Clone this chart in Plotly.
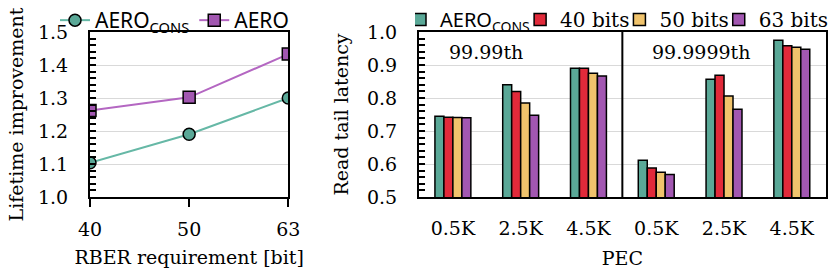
import plotly.graph_objects as go

# ---------------- data ----------------
rber_labels = ["40", "50", "63"]
aero_cons_life = [1.104, 1.19, 1.30]
aero_life = [1.262, 1.302, 1.433]

pec_labels = ["0.5K", "2.5K", "4.5K", "0.5K", "2.5K", "4.5K"]
section_labels = ["99.99th", "99.9999th"]
lat_aero_cons = [0.745, 0.840, 0.890, 0.611, 0.857, 0.975]
lat_40 = [0.742, 0.820, 0.890, 0.588, 0.869, 0.958]
lat_50 = [0.741, 0.785, 0.875, 0.575, 0.806, 0.954]
lat_63 = [0.740, 0.748, 0.867, 0.568, 0.766, 0.948]

# ---------------- style ----------------
TEAL = "#5AA897"
TEAL_LINE = "#66B8A6"
RED = "#E12A3A"
YELLOW = "#F0C36C"
PURPLE = "#A257B1"
PURPLE_LINE = "#B467C2"
SERIF = "DejaVu Serif"
SANS = "Noto Sans"
W, H = 830, 274

def px_x(p):
    return p / W

def px_y(p):
    return 1 - p / H

xl = [px_x(90), px_x(288.3)]
xr = [px_x(419), px_x(825.7)]
yd = [px_y(197), px_y(32)]

fig = go.Figure()

cons_name = 'AERO<sub>CONS</sub>'
cons_name_bar = '<span style="font-family:Noto Sans">AERO<sub>CONS</sub></span>'
aero_name = 'AERO'

xpos_l = list(range(len(rber_labels)))
fig.add_trace(go.Scatter(
    x=xpos_l, y=aero_cons_life, mode="lines+markers", name=cons_name,
    line=dict(color=TEAL_LINE, width=2),
    marker=dict(symbol="circle", size=12, color=TEAL, line=dict(color="black", width=1.5)),
    xaxis="x", yaxis="y", legend="legend"))
fig.add_trace(go.Scatter(
    x=xpos_l, y=aero_life, mode="lines+markers", name=aero_name,
    line=dict(color=PURPLE_LINE, width=2),
    marker=dict(symbol="square", size=12, color=PURPLE, line=dict(color="black", width=1.5)),
    xaxis="x", yaxis="y", legend="legend"))

xpos_r = list(range(len(pec_labels)))
for name, vals, col in [(cons_name_bar, lat_aero_cons, TEAL), ("40 bits", lat_40, RED),
                        ("50 bits", lat_50, YELLOW), ("63 bits", lat_63, PURPLE)]:
    fig.add_trace(go.Bar(
        x=xpos_r, y=vals, name=name, marker=dict(color=col, line=dict(color="black", width=1.5)),
        xaxis="x2", yaxis="y2", legend="legend2"))

tickfont = dict(family=SERIF, size=19, color="black")
titlefont = dict(family=SERIF, size=19, color="black")
n_r = len(pec_labels)
bounds = [i - 0.5 for i in range(n_r + 1)]

fig.update_layout(
    width=W, height=H, margin=dict(l=0, r=0, t=0, b=0, autoexpand=False),
    font=dict(family=SERIF, color="black"),
    plot_bgcolor="white", paper_bgcolor="white",
    barmode="group", bargap=0.47, bargroupgap=0,
    xaxis=dict(domain=xl, range=[0, len(rber_labels) - 1], tickvals=xpos_l, ticktext=rber_labels,
               ticks="outside", ticklen=8, tickwidth=2, tickcolor="black",
               showline=True, linecolor="black", linewidth=2, mirror=True, automargin=False,
               showgrid=False, zeroline=False, tickfont=tickfont, ticklabelstandoff=6,
               title=dict(text="RBER requirement [bit]", font=titlefont, standoff=12),
               anchor="y"),
    xaxis3=dict(domain=xl, range=[0, len(rber_labels) - 1], tickvals=xpos_l, showticklabels=False,
                ticks="inside", ticklen=7, tickwidth=2, tickcolor="black", overlaying="x",
                anchor="y", showgrid=False, zeroline=False, showline=False, automargin=False),
    yaxis=dict(domain=yd, range=[1.0, 1.5], dtick=0.1, tickformat=".1f",
               ticks="inside", ticklen=6, tickwidth=2, tickcolor="black",
               minor=dict(dtick=0.02, ticks="inside", ticklen=6, tickwidth=1.5, tickcolor="black", showgrid=False),
               showline=True, linecolor="black", linewidth=2, mirror=True, automargin=False,
               showgrid=True, gridcolor="#d9d9d9", gridwidth=1, zeroline=False,
               tickfont=tickfont, ticklabelstandoff=16,
               title=dict(text="Lifetime improvement", font=titlefont, standoff=9),
               anchor="x"),
    xaxis2=dict(domain=xr, range=[-0.5, n_r - 0.5], tickvals=xpos_r, ticktext=pec_labels,
                ticks="", showline=True, linecolor="black", linewidth=2, mirror=True, automargin=False,
                showgrid=False, zeroline=False, tickfont=tickfont, ticklabelstandoff=13,
                title=dict(text="PEC", font=titlefont, standoff=14),
                anchor="y2"),
    xaxis4=dict(domain=xr, range=[-0.5, n_r - 0.5], tickvals=bounds, showticklabels=False,
                ticks="outside", ticklen=8, tickwidth=2, tickcolor="black", overlaying="x2",
                anchor="y2", showgrid=False, zeroline=False, showline=False, automargin=False),
    xaxis5=dict(domain=xr, range=[-0.5, n_r - 0.5], tickvals=bounds, showticklabels=False,
                ticks="inside", ticklen=7, tickwidth=2, tickcolor="black", overlaying="x2",
                anchor="y2", showgrid=False, zeroline=False, showline=False, automargin=False),
    yaxis2=dict(domain=yd, range=[0.5, 1.0], dtick=0.1, tickformat=".1f",
                ticks="inside", ticklen=6, tickwidth=2, tickcolor="black",
                minor=dict(dtick=0.02, ticks="inside", ticklen=6, tickwidth=1.5, tickcolor="black", showgrid=False),
                showline=True, linecolor="black", linewidth=2, mirror=True, automargin=False,
                showgrid=True, gridcolor="#d9d9d9", gridwidth=1, zeroline=False,
                tickfont=tickfont, ticklabelstandoff=16,
                title=dict(text="Read tail latency", font=titlefont, standoff=13),
                anchor="x2"),
    legend=dict(orientation="h", xref="container", yref="container", x=px_x(55), y=1.0,
                xanchor="left", yanchor="top",
                font=dict(family=SANS, size=21, color="black"), bgcolor="rgba(0,0,0,0)",
                itemwidth=30, tracegroupgap=0, traceorder="normal"),
    legend2=dict(orientation="h", xref="container", yref="container", x=px_x(415), y=1.0,
                 xanchor="left", yanchor="top",
                 font=dict(family=SERIF, size=20, color="black"), bgcolor="rgba(0,0,0,0)",
                 itemwidth=30, indentation=-15, tracegroupgap=0, traceorder="normal"),
    showlegend=True,
)

# divider between percentile sections
fig.add_shape(type="line", xref="x2", yref="y2 domain", x0=2.5, x1=2.5, y0=0, y1=1,
              line=dict(color="black", width=2))

for lab, x0 in zip(section_labels, [-0.5, 2.5]):
    fig.add_annotation(text=lab, xref="x2", yref="paper", x=x0, y=px_y(52), xanchor="left",
                       yanchor="middle", xshift=28, showarrow=False,
                       font=dict(family=SERIF, size=19, color="black"))

fig.write_html("out.html", config={"displayModeBar": False},
               post_script="document.body.style.margin='0';document.body.style.overflow='hidden';")
